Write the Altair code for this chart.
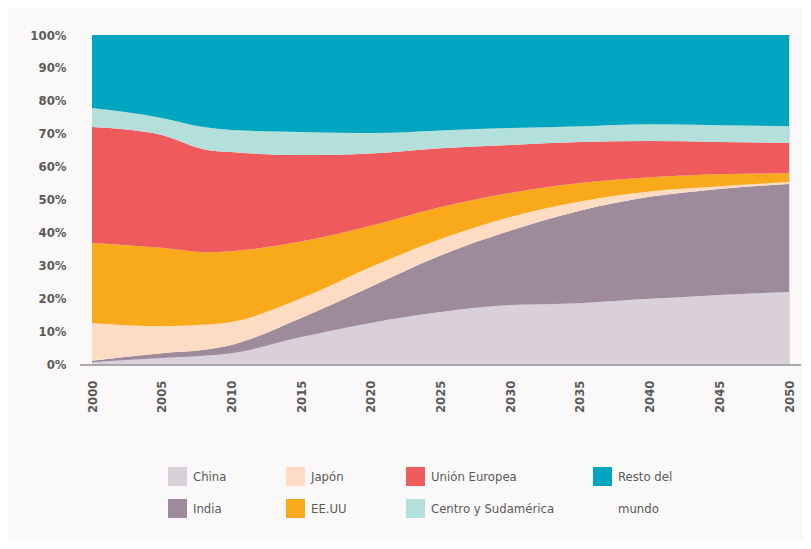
import altair as alt
import pandas as pd

years = [2000, 2005, 2008, 2010, 2015, 2020, 2025, 2030, 2035, 2040, 2045, 2050]
china = [0.5, 1.8, 2.5, 3.3, 8.2, 12.5, 15.8, 17.9, 18.5, 19.8, 21.0, 21.9]
india = [0.5, 1.5, 1.8, 2.5, 5.8, 11.0, 17.2, 22.6, 28.1, 31.0, 32.2, 32.8]
japon = [11.5, 8.2, 7.7, 7.0, 6.0, 6.0, 5.0, 4.2, 2.8, 1.6, 0.8, 0.6]
eeuu = [24.3, 23.8, 22.0, 21.5, 17.2, 12.5, 9.7, 7.3, 5.6, 4.4, 3.7, 2.7]
ue = [35.2, 34.3, 31.3, 30.1, 26.3, 22.0, 17.9, 14.6, 12.5, 11.0, 9.8, 9.2]
csa = [5.8, 5.2, 6.7, 6.7, 7.0, 6.2, 5.4, 5.1, 4.8, 5.1, 5.1, 5.1]
resto = [22.2, 25.2, 28.0, 28.9, 29.5, 29.8, 29.0, 28.3, 27.7, 27.1, 27.4, 27.7]

series_names = ["China", "India", "Japón", "EE.UU", "Unión Europea",
                "Centro y Sudamérica", "Resto del mundo"]
series_values = [china, india, japon, eeuu, ue, csa, resto]
series_colors = {
    "China": "#d9d0d9",
    "India": "#9d8a9b",
    "Japón": "#fddcc3",
    "EE.UU": "#f9aa1b",
    "Unión Europea": "#ef5b5d",
    "Centro y Sudamérica": "#b4e0dc",
    "Resto del mundo": "#00a5c0",
}
legend_main = ["China", "Japón", "Unión Europea",
               "India", "EE.UU", "Centro y Sudamérica"]
legend_rest = ["Resto del mundo"]
x_ticks = list(range(2000, 2051, 5))
y_ticks = list(range(0, 101, 10))

rows = []
for i, (name, vals) in enumerate(zip(series_names, series_values)):
    for yr, v in zip(years, vals):
        rows.append({"anio": yr, "region": name, "valor": v, "orden": i})
df = pd.DataFrame(rows)

W, H = 697, 329
FONT = "'DejaVu Sans Condensed', 'Liberation Sans', sans-serif"
TXT = "#5a5a5a"

x_enc = alt.X("anio:Q",
              scale=alt.Scale(domain=[2000, 2050], nice=False, zero=False),
              axis=alt.Axis(values=x_ticks, format="d", labelAngle=270,
                            title=None, ticks=False, domain=False, grid=False,
                            labelPadding=16, labelFontSize=13, labelColor=TXT,
                            labelFont=FONT, labelFontWeight="bold"))
y_enc = alt.Y("y0:Q",
              scale=alt.Scale(domain=[0, 100], nice=False),
              axis=alt.Axis(values=y_ticks, labelExpr="datum.value + '%'",
                            title=None, ticks=False, domain=False, grid=False,
                            labelPadding=26, labelFontSize=13, labelColor=TXT,
                            labelFont=FONT, labelFontWeight="bold"))

base = alt.Chart(df).transform_stack(
    stack="valor", groupby=["anio"], as_=["y0", "y1"],
    sort=[alt.SortField("orden", order="ascending")],
)

legend_common = dict(orient="none", title=None, direction="horizontal",
                     symbolType="square", symbolSize=361, symbolStrokeWidth=0,
                     symbolOpacity=1, labelFontSize=13, labelColor=TXT,
                     labelFont=FONT, labelOffset=6)

main_area = base.transform_filter(
    "datum.region != 'Resto del mundo'"
).mark_area(interpolate="monotone").encode(
    x=x_enc, y=y_enc, y2="y1:Q",
    color=alt.Color("region:N",
                    scale=alt.Scale(domain=legend_main,
                                    range=[series_colors[n] for n in legend_main]),
                    legend=alt.Legend(legendX=76, legendY=432, columns=3,
                                      columnPadding=59, rowPadding=13,
                                      **legend_common)),
)

rest_area = base.transform_filter(
    "datum.region == 'Resto del mundo'"
).mark_area(interpolate="monotone").encode(
    x=x_enc, y=y_enc, y2="y1:Q",
    color=alt.Color("region:N",
                    scale=alt.Scale(domain=legend_rest,
                                    range=[series_colors[n] for n in legend_rest]),
                    legend=alt.Legend(legendX=501, legendY=432, columns=1,
                                      labelExpr="['Resto del', 'mundo']",
                                      **legend_common)),
)

baseline = alt.Chart(pd.DataFrame({"a": [0]})).mark_rule(
    color="#a8a8a8", strokeWidth=2
).encode(x=alt.value(-12), x2=alt.value(W + 12), y=alt.value(H + 1))

chart = alt.layer(main_area, rest_area, baseline).resolve_scale(
    color="independent"
).properties(
    width=W, height=H,
    autosize=alt.AutoSizeParams(type="none"),
    padding={"left": 84, "top": 27, "right": 14, "bottom": 177},
    background="#faf8f8",
).configure_view(strokeWidth=0).configure(
    style={"guide-label": {"lineHeight": 32}}
)

chart.save("out.html", embed_options={"renderer": "svg", "actions": False})
